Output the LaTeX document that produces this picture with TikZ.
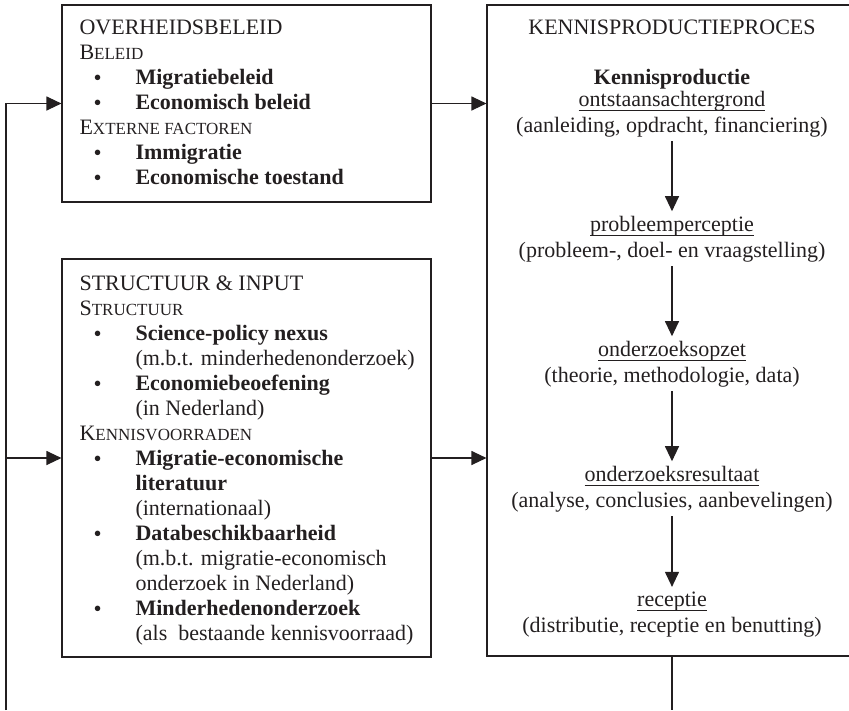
\documentclass[tikz,border=0pt]{standalone}
\usepackage{fontspec}
\setmainfont{Liberation Serif}
\usetikzlibrary{arrows.meta}
\definecolor{inkt}{HTML}{231F20}
\newcommand{\kk}[2]{#1{\fontsize{17}{25}\selectfont #2}}
\newcommand{\punt}[1]{\makebox[56pt][l]{\hspace*{14pt}\raisebox{-1pt}{\fontsize{23}{23}\selectfont\textbullet}}#1}
\newcommand{\verder}[1]{\hspace*{56pt}#1}
\newcommand{\streep}[1]{\setbox0=\hbox{#1}\rlap{\rule[-5pt]{\wd0}{0.9pt}}\box0}

\begin{document}
\begin{tikzpicture}[x=1pt, y=-1pt, line width=1.1pt, color=inkt,
    kader/.style={draw, rectangle, inner sep=0pt},
    tekst/.style={align=left, inner sep=0pt, font=\fontsize{22}{25}\selectfont},
    stap/.style={align=center, inner sep=4pt, font=\fontsize{22}{25}\selectfont},
    pijl/.style={-{Triangle[length=15pt,width=14pt]}}]
  \useasboundingbox (0,0) rectangle (849,710);
  \clip (0,0) rectangle (849,710);

  % kaders
  \node[kader, minimum width=369pt, minimum height=197pt] (beleid) at (246.5,103.5) {};
  \node[kader, minimum width=369pt, minimum height=398pt] (invoer) at (246.5,458) {};
  \node[kader, minimum width=370pt, minimum height=651pt] (kp) at (672,330.5) {};

  \node[tekst, anchor=base west] (beleidtekst) at (79,184) {OVERHEIDSBELEID\\
    \kk{B}{ELEID}\\
    \punt{\textbf{Migratiebeleid}}\\
    \punt{\textbf{Economisch beleid}}\\
    \kk{E}{XTERNE FACTOREN}\\
    \punt{\textbf{Immigratie}}\\
    \punt{\textbf{Economische toestand}}};

  \node[tekst, anchor=base west] (invoertekst) at (79,640) {STRUCTUUR \& INPUT\\
    \kk{S}{TRUCTUUR}\\
    \punt{\textbf{Science-policy nexus}}\\
    \verder{(m.b.t. minderhedenonderzoek)}\\
    \punt{\textbf{Economiebeoefening}}\\
    \verder{(in Nederland)}\\
    \kk{K}{ENNISVOORRADEN}\\
    \punt{\textbf{Migratie-economische}}\\
    \verder{\textbf{literatuur}}\\
    \verder{(internationaal)}\\
    \punt{\textbf{Databeschikbaarheid}}\\
    \verder{(m.b.t. migratie-economisch}\\
    \verder{onderzoek in Nederland)}\\
    \punt{\textbf{Minderhedenonderzoek}}\\
    \verder{(als\ \ bestaande kennisvoorraad)}};

  % kennisproductieproces
  \node[stap, anchor=base] (kptitel) at (672,34) {KENNISPRODUCTIEPROCES};
  \node[stap, anchor=base] (ontstaan) at (672,132) {\textbf{Kennisproductie}\\[-3pt]
    \streep{ontstaansachtergrond}\\[1pt] (aanleiding, opdracht, financiering)};
  \node[stap, anchor=base] (probleem) at (672,257) {\streep{probleemperceptie}\\[1pt]
    (probleem-, doel- en vraagstelling)};
  \node[stap, anchor=base] (opzet) at (672,382) {\streep{onderzoeksopzet}\\[1pt]
    (theorie, methodologie, data)};
  \node[stap, anchor=base] (resultaat) at (672,507) {\streep{onderzoeksresultaat}\\[1pt]
    (analyse, conclusies, aanbevelingen)};
  \node[stap, anchor=base] (receptie) at (672,632) {\streep{receptie}\\[1pt]
    (distributie, receptie en benutting)};

  \draw[pijl] (ontstaan) -- (probleem);
  \draw[pijl] (probleem) -- (opzet);
  \draw[pijl] (opzet) -- (resultaat);
  \draw[pijl] (resultaat) -- (receptie);

  % terugkoppeling
  \coordinate (lus) at (6,710);
  \draw[pijl] (lus) |- (beleid.west);
  \draw[pijl] (lus |- invoer.west) -- (invoer.west);
  \draw[pijl] (beleid.east) -- (beleid.east -| kp.west);
  \draw[pijl] (invoer.east) -- (invoer.east -| kp.west);
  \draw (kp.south) -- (kp.south |- lus);
\end{tikzpicture}
\end{document}
